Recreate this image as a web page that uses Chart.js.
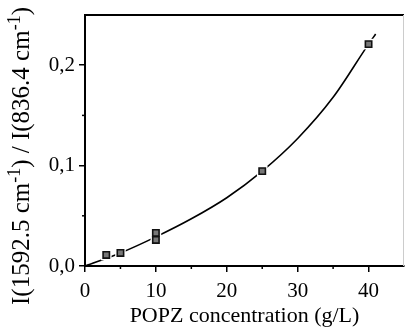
<!DOCTYPE html>
<html>
<head>
<meta charset="utf-8">
<script src="https://cdn.jsdelivr.net/npm/chart.js@4.4.1/dist/chart.umd.min.js"></script>
<style>
  html, body { margin: 0; padding: 0; background: #fff; }
  #wrap { width: 405px; height: 329px; }
</style>
</head>
<body>
<div id="wrap"><canvas id="chart" width="405" height="329"></canvas></div>
<script>
// measured points
var concX = [3, 5, 10, 10, 25, 40];
var ratioY = [0.011, 0.013, 0.026, 0.033, 0.0945, 0.221];

// fitted curve
var curveX = [0, 5, 10, 15, 20, 25, 30, 35, 40, 41];
var curveY = [0, 0.013, 0.029, 0.047, 0.068, 0.0945, 0.127, 0.168, 0.221, 0.231];

var xTicks = [0, 10, 20, 30, 40];
var yTicks = [0, 0.1, 0.2];
var xMinor = [5, 15, 25, 35];
var yMinor = [0.05, 0.15];

// y title pieces: [text, superscript?]
var yTitle = [['I(1592.5 cm', false], ['-1', true], [') / I(836.4 cm', false], ['-1', true], [')', false]];
var xTitle = 'POPZ concentration (g/L)';

var serif = '"Liberation Serif", "Times New Roman", serif';

function pares(xs, ys) {
    var out = [];
    for (var i = 0; i < xs.length; i++) {
        out.push({ x: xs[i], y: ys[i] });
    }
    return out;
}

var extras = {
    id: 'extras',
    afterDraw: function (chart) {
        var ctx = chart.ctx;
        var a = chart.chartArea;
        var sx = chart.scales.x;
        var sy = chart.scales.y;
        ctx.save();
        // top frame and faint right edge
        ctx.strokeStyle = '#000';
        ctx.lineWidth = 2;
        ctx.beginPath();
        ctx.moveTo(a.left, a.top);
        ctx.lineTo(a.right, a.top);
        ctx.stroke();
        ctx.strokeStyle = '#ccc';
        ctx.lineWidth = 1;
        ctx.beginPath();
        ctx.moveTo(a.right - 0.5, a.top);
        ctx.lineTo(a.right - 0.5, a.bottom);
        ctx.stroke();
        // minor ticks
        ctx.strokeStyle = '#000';
        ctx.lineWidth = 1.5;
        xMinor.forEach(function (v) {
            var px = sx.getPixelForValue(v);
            ctx.beginPath();
            ctx.moveTo(px, a.bottom);
            ctx.lineTo(px, a.bottom + 3);
            ctx.stroke();
        });
        yMinor.forEach(function (v) {
            var py = sy.getPixelForValue(v);
            ctx.beginPath();
            ctx.moveTo(a.left, py);
            ctx.lineTo(a.left - 3, py);
            ctx.stroke();
        });
        // y title with raised -1
        var normal = '25px ' + serif;
        var small = '18px ' + serif;
        var total = 0;
        yTitle.forEach(function (p) {
            ctx.font = p[1] ? small : normal;
            total += ctx.measureText(p[0]).width;
        });
        ctx.fillStyle = '#000';
        ctx.textAlign = 'left';
        ctx.textBaseline = 'alphabetic';
        ctx.translate(29, 156);
        ctx.rotate(-Math.PI / 2);
        var pos = -total / 2;
        yTitle.forEach(function (p) {
            ctx.font = p[1] ? small : normal;
            ctx.fillText(p[0], pos, p[1] ? -9 : 0);
            pos += ctx.measureText(p[0]).width;
        });
        ctx.restore();
    }
};

var datos = {
    type: 'scatter',
    data: {
        datasets: [{
            label: 'puntos',
            data: pares(concX, ratioY),
            pointStyle: 'rect',
            pointRadius: 4.5,
            pointBackgroundColor: '#777',
            pointBorderColor: '#111',
            pointBorderWidth: 1.6,
            showLine: false,
            order: 0
        }, {
            label: 'halo',
            data: pares(concX, ratioY),
            pointStyle: 'rect',
            pointRadius: 7.5,
            pointBackgroundColor: '#fff',
            pointBorderWidth: 0,
            showLine: false,
            order: 1
        }, {
            label: 'ajuste',
            data: pares(curveX, curveY),
            showLine: true,
            borderColor: '#000',
            borderWidth: 1.6,
            pointRadius: 0,
            cubicInterpolationMode: 'monotone',
            order: 2
        }]
    },
    options: {
        responsive: false,
        animation: false,
        layout: { autoPadding: false, padding: { top: 15, right: 1, left: 0, bottom: 0 } },
        plugins: {
            legend: { display: false },
            tooltip: { enabled: false }
        },
        scales: {
            x: {
                type: 'linear',
                min: 0,
                max: 45,
                afterBuildTicks: function (s) {
                    s.ticks = xTicks.map(function (v) { return { value: v }; });
                },
                afterFit: function (s) {
                    s.height = 63;
                    s.paddingLeft = 0;
                    s.paddingRight = 0;
                },
                ticks: {
                    color: '#000',
                    padding: 7,
                    maxRotation: 0,
                    autoSkip: false,
                    font: { family: serif, size: 21 }
                },
                grid: {
                    drawOnChartArea: false,
                    drawTicks: true,
                    tickLength: 6,
                    color: '#000',
                    lineWidth: 1.5
                },
                border: { display: true, color: '#000', width: 2 },
                title: {
                    display: true,
                    text: xTitle,
                    color: '#000',
                    padding: { top: 0, bottom: 0 },
                    font: { family: serif, size: 22 }
                }
            },
            y: {
                min: 0,
                max: 0.25,
                afterBuildTicks: function (s) {
                    s.ticks = yTicks.map(function (v) { return { value: v }; });
                },
                afterFit: function (s) {
                    s.width = 85;
                    s.paddingTop = 0;
                    s.paddingBottom = 0;
                },
                ticks: {
                    color: '#000',
                    padding: 4,
                    autoSkip: false,
                    font: { family: serif, size: 21 },
                    callback: function (v) { return v.toFixed(1).replace('.', ','); }
                },
                grid: {
                    drawOnChartArea: false,
                    drawTicks: true,
                    tickLength: 6,
                    color: '#000',
                    lineWidth: 1.5
                },
                border: { display: true, color: '#000', width: 2 }
            }
        }
    },
    plugins: [extras]
};

var canvas = document.getElementById('chart').getContext('2d');
window.grafico = new Chart(canvas, datos);
</script>
</body>
</html>
